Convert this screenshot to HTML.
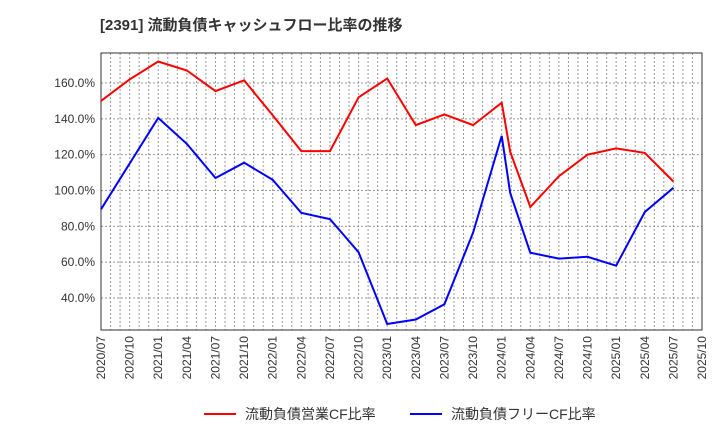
<!DOCTYPE html><html><head><style>body{margin:0;background:#fff}svg{display:block;font-family:"Liberation Sans","Noto Sans CJK JP",sans-serif}</style></head><body>
<svg width="720" height="440" xmlns="http://www.w3.org/2000/svg">
<text x="100" y="30" font-size="15" font-weight="bold" fill="#333">[2391]  流動負債キャッシュフロー比率の推移</text>
<g id="g" stroke="#999" stroke-width="1" stroke-dasharray="2,2"></g>
<rect x="101" y="53" width="601" height="277" fill="none" stroke="#333"/>
<g font-size="12" fill="#333" text-anchor="end" id="yl"></g>
<g font-size="12" fill="#333" id="xl"></g>
<polyline fill="none" stroke="#f00" stroke-width="2" points="101,100.9 129.6,79.4 158.2,61.5 186.9,70.5 215.5,91.1 244.1,80.3 272.7,115.3 301.3,151.1 330,151.1 358.6,97.3 387.2,78.5 415.8,125.1 444.4,114.4 473.1,125.1 501.7,102.7 510.2,151.7 530.3,207 558.9,176.2 587.5,154.7 616.1,148.4 644.8,152.9 673.4,181.5"/>
<polyline fill="none" stroke="#00f" stroke-width="2" points="101,209.3 129.6,163.6 158.2,117.9 186.9,143.9 215.5,178 244.1,162.7 272.7,179.8 301.3,212.9 330,219.2 342,233 358.6,252.3 387.2,324 415.8,319.5 444.4,304.3 473.1,232.6 501.7,135.9 510.2,193 530.3,252.7 558.9,258.6 587.5,256.8 616.1,265.7 644.8,212 673.4,187.8"/>
<line x1="204" y1="414" x2="236" y2="414" stroke="#f00" stroke-width="2"/>
<text x="245" y="419" font-size="14" fill="#333">流動負債営業CF比率</text>
<line x1="410" y1="414" x2="442" y2="414" stroke="#00f" stroke-width="2"/>
<text x="451" y="419" font-size="14" fill="#333">流動負債フリーCF比率</text>
</svg>
<script>
var ns="http://www.w3.org/2000/svg",g=document.getElementById('g'),yl=document.getElementById('yl'),xl=document.getElementById('xl');
for(var i=1;i<63;i++){var x=101+i*601/63,l=document.createElementNS(ns,'line');l.setAttribute('x1',x);l.setAttribute('x2',x);l.setAttribute('y1',53);l.setAttribute('y2',330);g.appendChild(l);}
for(var v=40;v<=160;v+=20){var y=83+(160-v)*1.7917,l=document.createElementNS(ns,'line');l.setAttribute('x1',101);l.setAttribute('x2',702);l.setAttribute('y1',y);l.setAttribute('y2',y);g.appendChild(l);
var t=document.createElementNS(ns,'text');t.setAttribute('x',95);t.setAttribute('y',y+4);t.textContent=v.toFixed(1)+'%';yl.appendChild(t);}
var m=['01','04','07','10'];
for(var i=0;i<22;i++){var x=101+i*601/21,mi=(2+i)%4,yr=2020+Math.floor((2+i)/4);var t=document.createElementNS(ns,'text');t.setAttribute('transform','translate('+(x+4)+',336) rotate(-90)');t.setAttribute('text-anchor','end');t.textContent=yr+'/'+m[mi];xl.appendChild(t);}
</script>
</body></html>
